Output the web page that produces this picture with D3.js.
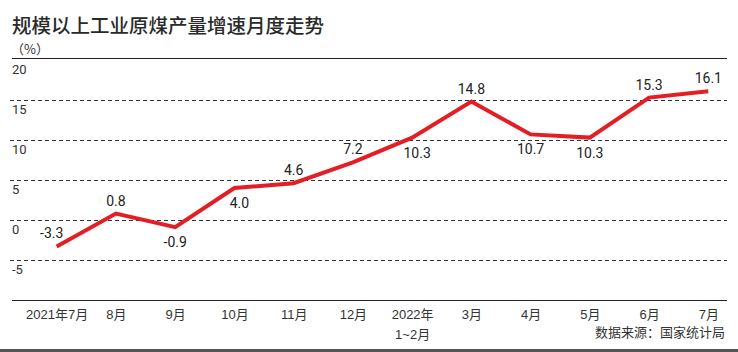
<!DOCTYPE html>
<html><head><meta charset="utf-8">
<script src="https://cdn.jsdelivr.net/npm/d3@7"></script>
<style>
html,body{margin:0;padding:0;background:#fff;}
svg{display:block;font-family:"Noto Sans CJK SC","Noto Sans",sans-serif;}
</style></head>
<body><svg id="c" width="738" height="352"></svg>
<script>
const categories = ["2021年7月","8月","9月","10月","11月","12月","2022年\n1~2月","3月","4月","5月","6月","7月"];
const values = [-3.3, 0.8, -0.9, 4.0, 4.6, 7.2, 10.3, 14.8, 10.7, 10.3, 15.3, 16.1];
const valueLabels = ["-3.3","0.8","-0.9","4.0","4.6","7.2","10.3","14.8","10.7","10.3","15.3","16.1"];
const yTicks = [-5, 0, 5, 10, 15, 20];
const labelSide = ["left","above","below","below","above","above","below","above","below","below","above","above"];

const svg = d3.select("#c");
const W = 738;
const x = d3.scalePoint().domain(categories).range([56.7, 708.3]);
const y = d3.scaleLinear().domain([-10, 20]).range([300, 60]);

// title
svg.append("text").attr("x", 12).attr("y", 33).attr("font-size", 19.5).attr("font-weight", 500)
  .attr("fill", "#2a2a2a").text("规模以上工业原煤产量增速月度走势");
svg.append("text").attr("x", 11).attr("y", 54).attr("font-size", 13).attr("fill", "#333").text("（%）");

// top and bottom solid lines
svg.append("line").attr("x1", 12).attr("x2", 727).attr("y1", 58.5).attr("y2", 58.5).attr("stroke", "#222").attr("stroke-width", 1);
svg.append("line").attr("x1", 12).attr("x2", 727).attr("y1", 300.5).attr("y2", 300.5).attr("stroke", "#222").attr("stroke-width", 1);

// gridlines (dashed) for ticks below 20
const gridG = svg.append("g");
gridG.selectAll("line").data(yTicks.filter(d => d < 20)).join("line")
  .attr("x1", 10).attr("x2", 727)
  .attr("y1", d => Math.round(y(d)) + 0.5).attr("y2", d => Math.round(y(d)) + 0.5)
  .attr("stroke", "#333").attr("stroke-width", 1).attr("stroke-dasharray", "4,3");

// y tick labels (below lines)
const yAxis = d3.axisLeft(y).tickValues(yTicks).tickSize(0).tickFormat(d => String(d));
const ya = svg.append("g").attr("transform", "translate(12,0)").call(yAxis);
ya.select(".domain").remove();
ya.selectAll("text").attr("text-anchor", "start").attr("x", 0).attr("dy", "1.05em")
  .attr("font-size", 13).attr("fill", "#333").attr("font-family", "Roboto, sans-serif");

// x axis labels
const xAxis = d3.axisBottom(x).tickSize(0).tickFormat(() => "");
const xa = svg.append("g").attr("transform", "translate(0,300)").call(xAxis);
xa.select(".domain").remove();
xa.selectAll(".tick").each(function(d) {
  const parts = d.split("\n");
  const t = d3.select(this).append("text").attr("fill", "#333").attr("font-size", 13)
    .attr("text-anchor", "middle").attr("font-family", "Liberation Sans, Arial, 'Noto Sans CJK SC', sans-serif");
  parts.forEach((p, i) => {
    t.append("tspan").attr("x", 0).attr("y", 19 + i * 20).text(p);
  });
});

// line
const line = d3.line().x((d, i) => x(categories[i])).y(d => y(d));
svg.append("path").datum(values).attr("d", line).attr("fill", "none")
  .attr("stroke", "#e31e25").attr("stroke-width", 4).attr("stroke-linejoin", "miter");

// value labels
svg.append("g").selectAll("text").data(values).join("text")
  .attr("x", (d, i) => x(categories[i]) + (labelSide[i] === "left" ? -5 : (i === 3 || i === 6 ? 5 : 0)))
  .attr("y", (d, i) => {
    const py = y(d);
    if (labelSide[i] === "below") return py + 20;
    if (labelSide[i] === "left") return py - 8;
    return py - 8;
  })
  .attr("text-anchor", "middle").attr("font-size", 14).attr("fill", "#222")
  .attr("font-family", "Roboto, sans-serif")
  .text((d, i) => valueLabels[i]);

// source
svg.append("text").attr("x", 725).attr("y", 337).attr("text-anchor", "end").attr("font-size", 13)
  .attr("fill", "#333").text("数据来源：国家统计局");

// bottom bar
svg.append("rect").attr("x", 0).attr("y", 349).attr("width", W).attr("height", 3).attr("fill", "#555");
</script></body></html>
